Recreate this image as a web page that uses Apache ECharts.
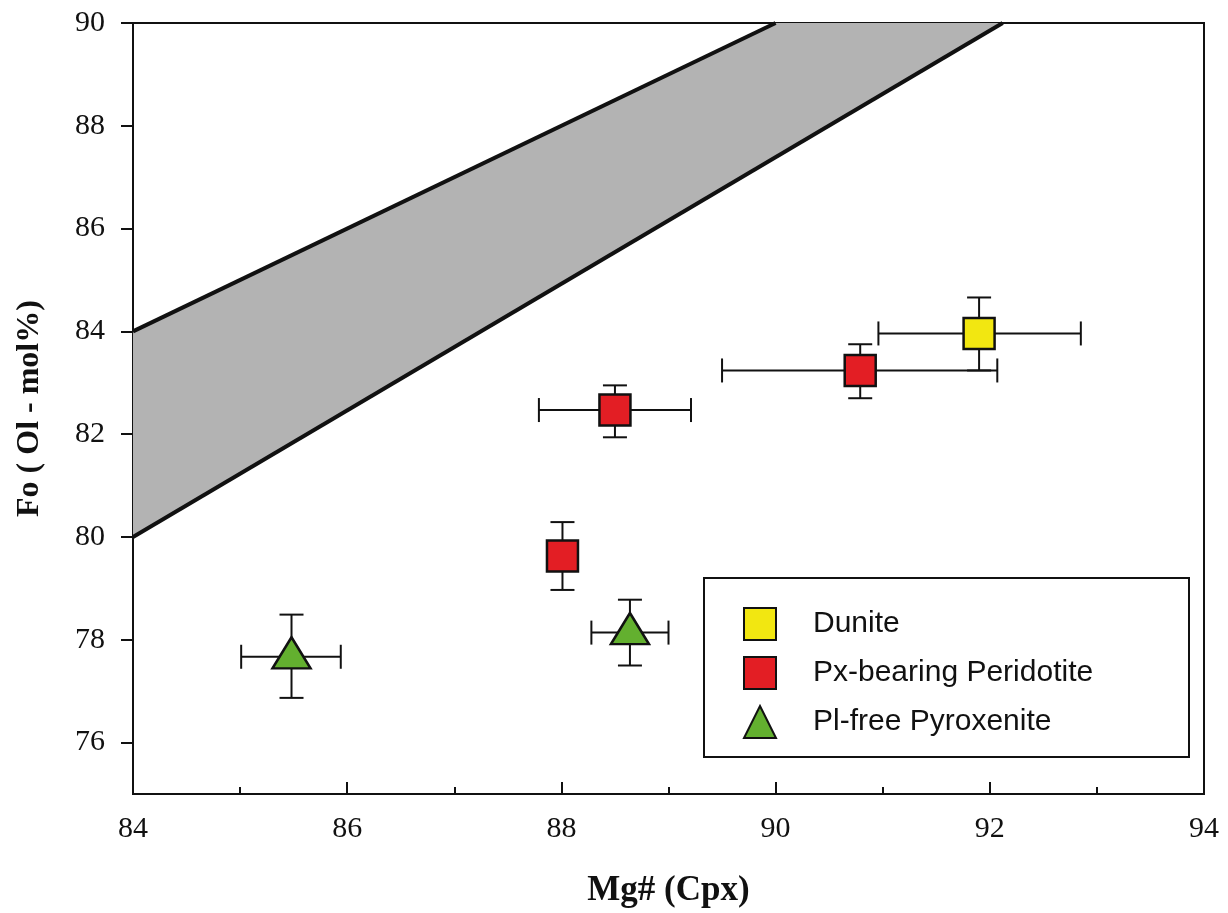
<!DOCTYPE html>
<html>
<head>
<meta charset="utf-8">
<title>Fo (Ol) vs Mg# (Cpx)</title>
<script src="https://cdn.jsdelivr.net/npm/echarts@6/dist/echarts.min.js"></script>
<style>
  html, body { margin: 0; padding: 0; background: #ffffff; }
  #chart { width: 1228px; height: 913px; }
</style>
</head>
<body>
<div id="chart"></div>
<script>
// Axis ranges and tick positions
const xRange = [84, 94];
const yRange = [75, 90];
const yTicks = [76, 78, 80, 82, 84, 86, 88, 90];

// Grey field bounded by two lines (Mg# Cpx, Fo Ol)
const bandUpper = [[84, 84], [90, 90]];
const bandLower = [[84, 80], [92.12, 90]];

// Dunite
const duniteMg = [91.90];
const duniteFo = [83.96];
const duniteMgErr = [[90.96, 92.85]];
const duniteFoErr = [[83.24, 84.66]];

// Px-bearing peridotite
const peridotiteMg = [90.79, 88.50, 88.01];
const peridotiteFo = [83.24, 82.47, 79.63];
const peridotiteMgErr = [[89.50, 92.07], [87.79, 89.21], null];
const peridotiteFoErr = [[82.70, 83.75], [81.94, 82.95], [78.97, 80.29]];

// Pl-free pyroxenite
const pyroxeniteMg = [85.48, 88.64];
const pyroxeniteFo = [77.67, 78.14];
const pyroxeniteMgErr = [[85.01, 85.94], [88.28, 89.00]];
const pyroxeniteFoErr = [[76.87, 78.49], [77.50, 78.78]];

const SERIF = '"Liberation Serif", "Times New Roman", serif';
const SANS = '"Liberation Sans", Arial, sans-serif';

function points(mg, fo) { return mg.map((x, i) => [x, fo[i]]); }

// Error bars for every sample: [x, y, xErr, yErr]
const errorItems = [];
function addErrors(mg, fo, mgErr, foErr) {
  mg.forEach((x, i) => errorItems.push([x, fo[i], mgErr[i], foErr[i]]));
}
addErrors(duniteMg, duniteFo, duniteMgErr, duniteFoErr);
addErrors(peridotiteMg, peridotiteFo, peridotiteMgErr, peridotiteFoErr);
addErrors(pyroxeniteMg, pyroxeniteFo, pyroxeniteMgErr, pyroxeniteFoErr);

const CAP = 12;
const barStyle = { stroke: '#111111', lineWidth: 2 };

function renderErrorBar(params, api) {
  const item = errorItems[params.dataIndex];
  const children = [];
  if (item[2]) {
    const a = api.coord([item[2][0], item[1]]);
    const b = api.coord([item[2][1], item[1]]);
    children.push({ type: 'line', shape: { x1: a[0], y1: a[1], x2: b[0], y2: b[1] }, style: barStyle });
    children.push({ type: 'line', shape: { x1: a[0], y1: a[1] - CAP, x2: a[0], y2: a[1] + CAP }, style: barStyle });
    children.push({ type: 'line', shape: { x1: b[0], y1: b[1] - CAP, x2: b[0], y2: b[1] + CAP }, style: barStyle });
  }
  if (item[3]) {
    const a = api.coord([item[0], item[3][0]]);
    const b = api.coord([item[0], item[3][1]]);
    children.push({ type: 'line', shape: { x1: a[0], y1: a[1], x2: b[0], y2: b[1] }, style: barStyle });
    children.push({ type: 'line', shape: { x1: a[0] - CAP, y1: a[1], x2: a[0] + CAP, y2: a[1] }, style: barStyle });
    children.push({ type: 'line', shape: { x1: b[0] - CAP, y1: b[1], x2: b[0] + CAP, y2: b[1] }, style: barStyle });
  }
  return { type: 'group', children: children };
}

function renderBand(params, api) {
  const poly = bandLower.concat(bandUpper.slice().reverse()).map(p => api.coord(p));
  return {
    type: 'polygon',
    shape: { points: poly },
    style: { fill: '#b3b3b3', stroke: null }
  };
}

const markerBorder = { borderColor: '#111111', borderWidth: 2.5, opacity: 1 };

const chart = echarts.init(document.getElementById('chart'), null, { renderer: 'canvas' });

chart.setOption({
  backgroundColor: '#ffffff',
  animation: false,
  grid: {
    left: 133, right: 24, top: 23, bottom: 118,
    show: true, borderColor: '#111111', borderWidth: 2, backgroundColor: 'transparent'
  },
  xAxis: {
    type: 'value',
    min: xRange[0], max: xRange[1], interval: 2,
    name: 'Mg# (Cpx)',
    nameLocation: 'middle',
    nameGap: 79,
    nameTextStyle: { fontFamily: SERIF, fontWeight: 'bold', fontSize: 35, color: '#111111' },
    axisLine: { show: true, onZero: false, lineStyle: { color: '#111111', width: 2 } },
    axisTick: { show: true, inside: true, length: 12, lineStyle: { color: '#111111', width: 2 } },
    minorTick: { show: true, splitNumber: 2, length: 7, lineStyle: { color: '#111111', width: 2 } },
    axisLabel: { fontFamily: SERIF, fontSize: 30, color: '#111111', margin: 20 },
    splitLine: { show: false },
    minorSplitLine: { show: false }
  },
  yAxis: {
    type: 'value',
    min: yRange[0], max: yRange[1],
    name: 'Fo ( Ol - mol%)',
    nameLocation: 'middle',
    nameGap: 87,
    nameTextStyle: { fontFamily: SERIF, fontWeight: 'bold', fontSize: 32, color: '#111111' },
    axisLine: { show: true, onZero: false, lineStyle: { color: '#111111', width: 2 } },
    axisTick: { show: true, inside: false, length: 12, customValues: yTicks, lineStyle: { color: '#111111', width: 2 } },
    axisLabel: { fontFamily: SERIF, fontSize: 30, color: '#111111', margin: 28, customValues: yTicks },
    splitLine: { show: false }
  },
  legend: {
    orient: 'vertical',
    left: 743, top: 607,
    padding: 0,
    itemWidth: 32, itemHeight: 32, itemGap: 15,
    selectedMode: false,
    z: 20,
    textStyle: { fontFamily: SANS, fontSize: 30, color: '#111111', padding: [0, 0, 0, 32] },
    data: ['Dunite', 'Px-bearing Peridotite', 'Pl-free Pyroxenite']
  },
  graphic: [{
    type: 'rect',
    left: 703, top: 577,
    z: 10,
    shape: { width: 485, height: 179 },
    style: { fill: '#ffffff', stroke: '#111111', lineWidth: 2 }
  }],
  series: [
    {
      name: 'field',
      type: 'custom',
      renderItem: renderBand,
      data: [0],
      z: 1,
      silent: true
    },
    {
      name: 'upper boundary',
      type: 'line',
      data: bandUpper,
      symbol: 'none',
      lineStyle: { color: '#111111', width: 4 },
      z: 2,
      silent: true
    },
    {
      name: 'lower boundary',
      type: 'line',
      data: bandLower,
      symbol: 'none',
      lineStyle: { color: '#111111', width: 4 },
      z: 2,
      silent: true
    },
    {
      name: 'errors',
      type: 'custom',
      renderItem: renderErrorBar,
      data: errorItems.map(d => [d[0], d[1]]),
      z: 3,
      silent: true
    },
    {
      name: 'Dunite',
      type: 'scatter',
      symbol: 'rect',
      symbolSize: 31,
      data: points(duniteMg, duniteFo),
      itemStyle: Object.assign({ color: '#f2e711' }, markerBorder),
      z: 5
    },
    {
      name: 'Px-bearing Peridotite',
      type: 'scatter',
      symbol: 'rect',
      symbolSize: 31,
      data: points(peridotiteMg, peridotiteFo),
      itemStyle: Object.assign({ color: '#e31e24' }, markerBorder),
      z: 5
    },
    {
      name: 'Pl-free Pyroxenite',
      type: 'scatter',
      symbol: 'triangle',
      symbolSize: [38, 31],
      symbolOffset: [0, -4],
      data: points(pyroxeniteMg, pyroxeniteFo),
      itemStyle: Object.assign({ color: '#63b02f' }, markerBorder),
      z: 5
    }
  ]
});
</script>
</body>
</html>
